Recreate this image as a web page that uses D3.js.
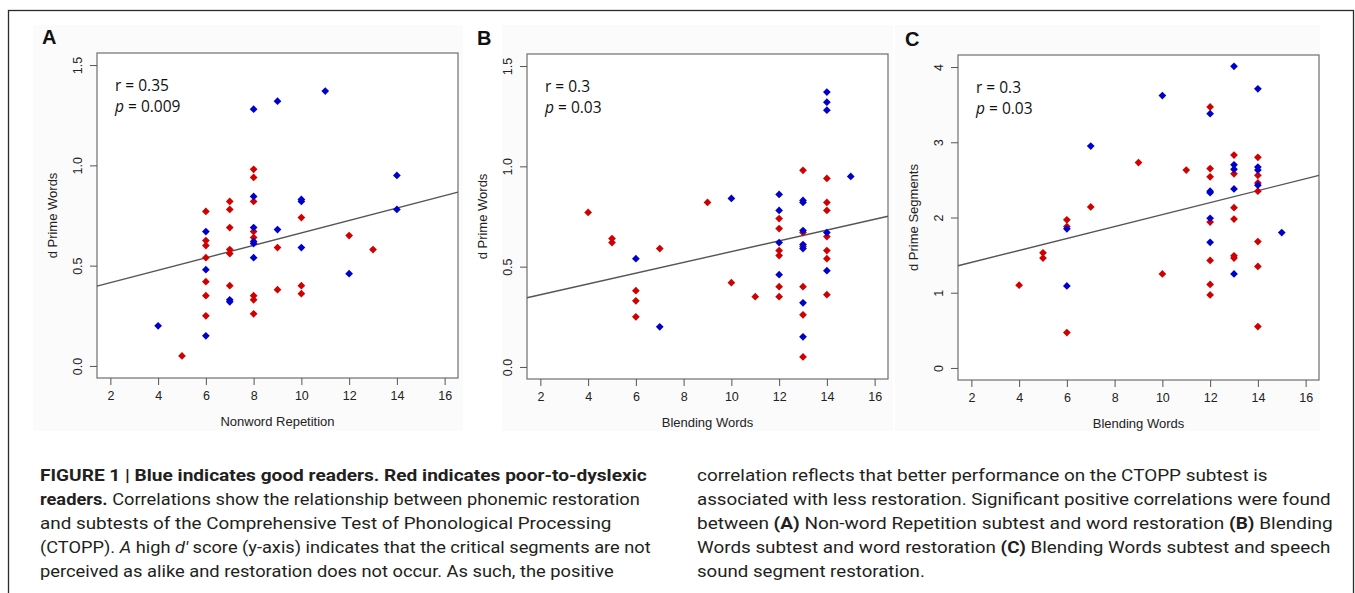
<!DOCTYPE html>
<html>
<head>
<meta charset="utf-8">
<script src="https://cdn.jsdelivr.net/npm/d3@7"></script>
<style>
  body { margin: 0; background: #fff; }
  .caption { font-family: Roboto, "Liberation Sans", sans-serif; font-size: 16px; fill: #231f20; }
</style>
</head>
<body>
<div id="chart"></div>
<script>
// shared axis values
const xDomain = [1.44, 16.56];
const xTicks = [2, 4, 6, 8, 10, 12, 14, 16];
const yDomainWords = [-0.06, 1.56];
const yTicksWords = [0, 0.5, 1.0, 1.5];
const yDomainSegments = [-0.16, 4.16];
const yTicksSegments = [0, 1, 2, 3, 4];

// A: Nonword Repetition vs d Prime Words  [x, d']
const goodA = [[4,0.20],[6,0.67],[6,0.48],[6,0.15],[7,0.32],[7,0.33],[8,1.28],[8,0.845],[8,0.69],[8,0.61],[8,0.62],[8,0.54],
  [9,1.32],[9,0.68],[10,0.82],[10,0.83],[10,0.59],[11,1.37],[12,0.46],[14,0.95],[14,0.78]];
const poorA = [[5,0.05],[6,0.77],[6,0.625],[6,0.60],[6,0.54],[6,0.42],[6,0.35],[6,0.25],[7,0.82],[7,0.78],[7,0.69],[7,0.58],
  [7,0.56],[7,0.40],[8,0.98],[8,0.94],[8,0.82],[8,0.67],[8,0.64],[8,0.35],[8,0.33],[8,0.26],[9,0.59],[9,0.38],
  [10,0.74],[10,0.40],[10,0.36],[12,0.65],[13,0.58]];
const fitA = [0.353, 0.031]; // intercept, slope
const statsA = ['0.35', '0.009'];

// B: Blending Words vs d Prime Words
const goodB = [[6,0.54],[7,0.20],[10,0.84],[12,0.86],[12,0.78],[12,0.62],[12,0.46],[13,0.83],[13,0.82],[13,0.68],[13,0.61],
  [13,0.59],[13,0.32],[13,0.15],[14,1.37],[14,1.32],[14,1.28],[14,0.67],[14,0.48],[15,0.95]];
const poorB = [[4,0.77],[5,0.64],[5,0.62],[6,0.38],[6,0.33],[6,0.25],[7,0.59],[9,0.82],[10,0.42],[11,0.35],[12,0.74],[12,0.69],
  [12,0.58],[12,0.555],[12,0.40],[12,0.35],[13,0.98],[13,0.67],[13,0.60],[13,0.40],[13,0.26],[13,0.05],[14,0.94],
  [14,0.82],[14,0.78],[14,0.65],[14,0.58],[14,0.54],[14,0.36]];
const fitB = [0.306, 0.0269];
const statsB = ['0.3', '0.03'];

// C: Blending Words vs d Prime Segments
const goodC = [[6,1.85],[6,1.09],[7,2.95],[10,3.62],[12,3.38],[12,2.35],[12,2.33],[12,1.99],[12,1.67],[13,4.01],[13,2.70],
  [13,2.64],[13,2.38],[13,1.25],[14,3.71],[14,2.67],[14,2.63],[14,2.43],[15,1.80]];
const poorC = [[4,1.10],[5,1.53],[5,1.46],[6,1.97],[6,1.88],[6,0.47],[7,2.14],[9,2.73],[10,1.25],[11,2.63],[12,3.47],[12,2.65],
  [12,2.54],[12,1.94],[12,1.43],[12,1.11],[12,0.97],[13,2.83],[13,2.58],[13,2.13],[13,1.98],[13,1.49],[13,1.46],
  [14,2.80],[14,2.56],[14,2.46],[14,2.35],[14,1.68],[14,1.35],[14,0.55]];
const fitC = [1.245, 0.0794];
const statsC = ['0.3', '0.03'];

const captionLeft = [
  [['FIGURE 1 | Blue indicates good readers. Red indicates poor-to-dyslexic', 'b']],
  [['readers.', 'b'], [' Correlations show the relationship between phonemic restoration', '']],
  [['and subtests of the Comprehensive Test of Phonological Processing', '']],
  [['(CTOPP). ', ''], ['A', 'i'], [' high ', ''], ['d\u2032', 'i'], [' score (y-axis) indicates that the critical segments are not', '']],
  [['perceived as alike and restoration does not occur. As such, the positive', '']]
];
const captionRight = [
  [['correlation reflects that better performance on the CTOPP subtest is', '']],
  [['associated with less restoration. Significant positive correlations were found', '']],
  [['between ', ''], ['(A)', 'b'], [' Non-word Repetition subtest and word restoration ', ''], ['(B)', 'b'], [' Blending', '']],
  [['Words subtest and word restoration ', ''], ['(C)', 'b'], [' Blending Words subtest and speech', '']],
  [['sound segment restoration.', '']]
];
// right edge of each caption line in the layout
const captionLeftEnds = [647, 640, 612, 651, 614];
const captionRightEnds = [1268, 1331, 1333, 1331, 925];

const panels = [
  {letter: 'A', letterX: 42, left: 97, top: 53, bg: [33, 463], xTitle: 'Nonword Repetition', yTitle: 'd Prime Words',
   yDomain: yDomainWords, yTicks: yTicksWords, yFormat: d3.format('.1f'), good: goodA, poor: poorA, fit: fitA, stats: statsA},
  {letter: 'B', letterX: 477, left: 527, top: 54, bg: [502, 893], xTitle: 'Blending Words', yTitle: 'd Prime Words',
   yDomain: yDomainWords, yTicks: yTicksWords, yFormat: d3.format('.1f'), good: goodB, poor: poorB, fit: fitB, stats: statsB},
  {letter: 'C', letterX: 905, left: 958, top: 55, bg: [895, 1320], xTitle: 'Blending Words', yTitle: 'd Prime Segments',
   yDomain: yDomainSegments, yTicks: yTicksSegments, yFormat: d3.format('d'), good: goodC, poor: poorC, fit: fitC, stats: statsC}
];

const width = 361, height = 325;
const sans = '"Liberation Sans", Arial, sans-serif';

const svg = d3.select('#chart')
  .append('svg')
  .attr('width', 1355)
  .attr('height', 593);

panels.forEach(function(p) {
  svg.append('rect')
    .attr('x', p.bg[0])
    .attr('y', 25)
    .attr('width', p.bg[1] - p.bg[0])
    .attr('height', 406)
    .attr('fill', '#fbfbfb');
});

svg.append('rect')
  .attr('x', 8.5)
  .attr('y', 10.5)
  .attr('width', 1345)
  .attr('height', 600)
  .attr('fill', 'none')
  .attr('stroke', '#2b2b2b')
  .attr('stroke-width', 1.3);

const diamond = d3.symbol().type(d3.symbolSquare).size(30);

panels.forEach(function(p) {
  svg.append('text')
    .attr('x', p.letterX)
    .attr('y', p.top - 9)
    .attr('font-family', sans)
    .attr('font-weight', 'bold')
    .attr('font-size', 20)
    .attr('fill', '#111')
    .text(p.letter);

  const g = svg.append('g')
    .attr('transform', `translate(${p.left}, ${p.top})`);

  const x = d3.scaleLinear().domain(xDomain).range([0, width]);
  const y = d3.scaleLinear().domain(p.yDomain).range([height, 0]);

  g.append('rect')
    .attr('width', width)
    .attr('height', height)
    .attr('fill', '#fff')
    .attr('stroke', '#6e6e6e')
    .attr('stroke-width', 1.2);

  const xAxis = g.append('g')
    .attr('transform', `translate(0, ${height})`)
    .call(d3.axisBottom(x).tickValues(xTicks).tickSize(7).tickPadding(6));
  xAxis.select('.domain').remove();
  xAxis.attr('font-family', sans).attr('font-size', 12.5);
  xAxis.selectAll('line').attr('stroke', '#555');
  xAxis.selectAll('text').attr('fill', '#222');

  const yAxis = g.append('g')
    .call(d3.axisLeft(y).tickValues(p.yTicks).tickSize(7).tickFormat(p.yFormat));
  yAxis.select('.domain').remove();
  yAxis.attr('font-family', sans).attr('font-size', 12.5);
  yAxis.selectAll('line').attr('stroke', '#555');
  yAxis.selectAll('text')
    .attr('x', null)
    .attr('dy', null)
    .attr('fill', '#222')
    .attr('text-anchor', 'middle')
    .attr('transform', 'translate(-15.5, 0) rotate(-90)');

  g.append('text')
    .attr('x', width / 2)
    .attr('y', height + 47.5)
    .attr('text-anchor', 'middle')
    .attr('font-family', sans)
    .attr('font-size', 13)
    .attr('fill', '#222')
    .text(p.xTitle);

  g.append('text')
    .attr('transform', `translate(-40.5, ${height / 2}) rotate(-90)`)
    .attr('text-anchor', 'middle')
    .attr('font-family', sans)
    .attr('font-size', 13)
    .attr('fill', '#222')
    .text(p.yTitle);

  // fitted line, drawn across the full x range like abline
  g.append('line')
    .attr('x1', x(xDomain[0]))
    .attr('x2', x(xDomain[1]))
    .attr('y1', y(p.fit[0] + p.fit[1] * xDomain[0]))
    .attr('y2', y(p.fit[0] + p.fit[1] * xDomain[1]))
    .attr('stroke', '#555')
    .attr('stroke-width', 1.4);

  g.selectAll('.poor')
    .data(p.poor)
    .enter()
    .append('path')
    .attr('class', 'poor')
    .attr('d', diamond)
    .attr('fill', '#d00000')
    .attr('transform', function(d) { return `translate(${x(d[0])}, ${y(d[1])}) rotate(45)`; });

  g.selectAll('.good')
    .data(p.good)
    .enter()
    .append('path')
    .attr('class', 'good')
    .attr('d', diamond)
    .attr('fill', '#0000cd')
    .attr('transform', function(d) { return `translate(${x(d[0])}, ${y(d[1])}) rotate(45)`; });

  const stats = g.append('text')
    .attr('font-family', '"Open Sans", sans-serif')
    .attr('font-size', 15.5)
    .attr('fill', '#111');
  stats.append('tspan')
    .attr('x', 18)
    .attr('y', 38)
    .text('r = ' + p.stats[0]);
  const pl = stats.append('tspan')
    .attr('x', 18)
    .attr('y', 59);
  pl.append('tspan').attr('font-style', 'italic').text('p');
  pl.append('tspan').text(' = ' + p.stats[1]);
});

function drawCaption(lines, ends, left) {
  lines.forEach(function(line, i) {
    const t = svg.append('text')
      .attr('class', 'caption')
      .attr('transform', `translate(${left}, ${481 + i * 24})`);
    line.forEach(function(seg) {
      t.append('tspan')
        .attr('font-weight', seg[1] === 'b' ? 'bold' : null)
        .attr('font-style', seg[1] === 'i' ? 'italic' : null)
        .text(seg[0]);
    });
    // squeeze/stretch each line to the column width of the original
    const w = t.node().getComputedTextLength();
    const sx = (ends[i] - left) / w;
    t.attr('transform', `translate(${left}, ${481 + i * 24}) scale(${sx}, 1)`);
  });
}

drawCaption(captionLeft, captionLeftEnds, 40);
drawCaption(captionRight, captionRightEnds, 697);
</script>
</body>
</html>
